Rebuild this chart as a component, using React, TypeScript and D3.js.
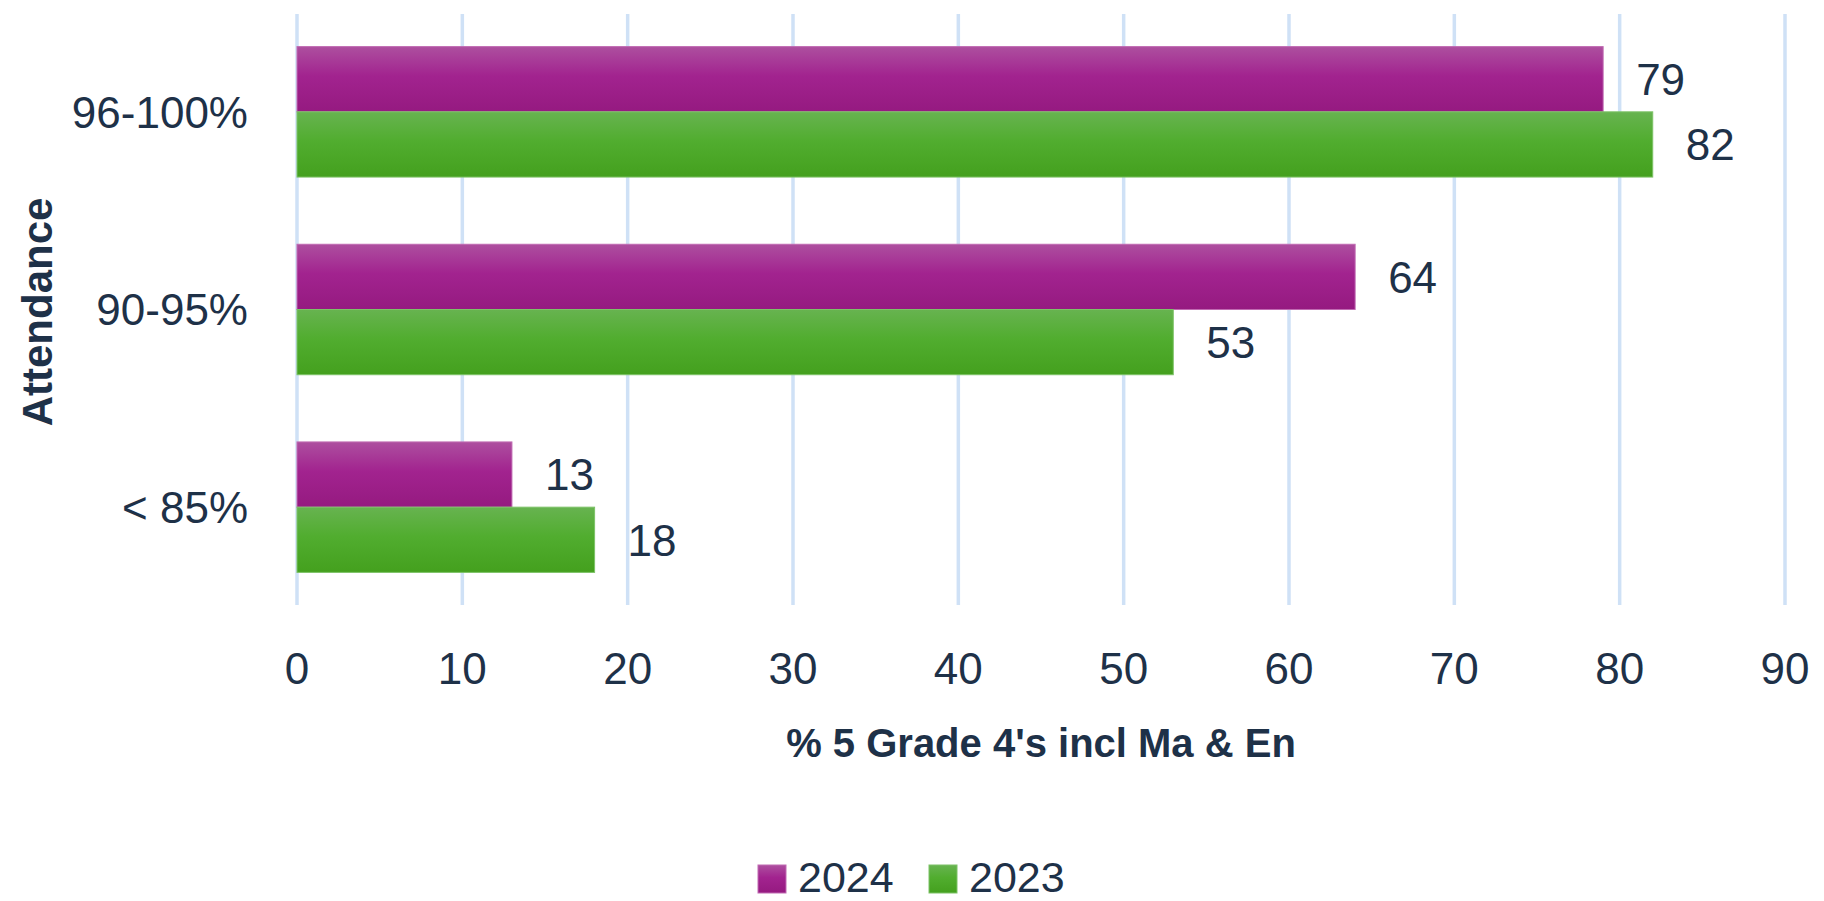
import React from "react";
import * as d3 from "d3";

const categories = ["96-100%", "90-95%", "< 85%"];
const seriesNames = ["2024", "2023"];
const values2024 = [79, 64, 13];
const values2023 = [82, 53, 18];
const xTicks = [0, 10, 20, 30, 40, 50, 60, 70, 80, 90];
const xTitle = "% 5 Grade 4's incl Ma & En";
const yTitle = "Attendance";

const W = 1824;
const H = 901;
const TEXT = "#1e3148";
const FONT = "'Liberation Sans', Arial, sans-serif";

export default function App() {
  const x = d3.scaleLinear().domain([0, 90]).range([297, 1785]);
  const y = d3
    .scaleBand<string>()
    .domain(categories)
    .range([13, 606])
    .paddingInner(0.34)
    .paddingOuter(0.17);
  const inner = d3.scaleBand<string>().domain(seriesNames).range([0, y.bandwidth()]);
  const seriesValues: Record<string, number[]> = { "2024": values2024, "2023": values2023 };
  const gradId: Record<string, string> = { "2024": "gPurple", "2023": "gGreen" };
  const stroke: Record<string, string> = { "2024": "#c06ab2", "2023": "#7cc266" };

  return (
    <svg
      width={W}
      height={H}
      style={{ position: "fixed", left: 0, top: 0, display: "block", background: "#fff" }}
      fontFamily={FONT}
    >
      <defs>
        <linearGradient id="gPurple" x1="0" y1="0" x2="0" y2="1">
          <stop offset="0%" stopColor="#ad4f9f" />
          <stop offset="45%" stopColor="#a2238f" />
          <stop offset="100%" stopColor="#951a80" />
        </linearGradient>
        <linearGradient id="gGreen" x1="0" y1="0" x2="0" y2="1">
          <stop offset="0%" stopColor="#67b350" />
          <stop offset="45%" stopColor="#51ad2f" />
          <stop offset="100%" stopColor="#44a01e" />
        </linearGradient>
      </defs>

      {xTicks.map((t) => (
        <line key={"g" + t} x1={x(t)} x2={x(t)} y1={14} y2={605} stroke="#cfe1f6" strokeWidth={3.5} />
      ))}

      {categories.map((c, ci) =>
        seriesNames.map((s) => {
          const v = seriesValues[s][ci];
          const y0 = (y(c) ?? 0) + (inner(s) ?? 0);
          const h = inner.bandwidth();
          return (
            <g key={c + s}>
              <rect
                x={x(0)}
                y={y0}
                width={x(v) - x(0)}
                height={h}
                fill={`url(#${gradId[s]})`}
                stroke={stroke[s]}
                strokeWidth={1}
              />
              <text
                x={x(v) + 33}
                y={y0 + h / 2}
                dy="0.36em"
                fontSize={44}
                fill={TEXT}
              >
                {v}
              </text>
            </g>
          );
        })
      )}

      {categories.map((c) => (
        <text
          key={"cl" + c}
          x={248}
          y={(y(c) ?? 0) + y.bandwidth() / 2}
          dy="0.36em"
          textAnchor="end"
          fontSize={44}
          fill={TEXT}
        >
          {c}
        </text>
      ))}

      {xTicks.map((t) => (
        <text key={"t" + t} x={x(t)} y={668} dy="0.36em" textAnchor="middle" fontSize={44} fill={TEXT}>
          {t}
        </text>
      ))}

      <text
        x={(x(0) + x(90)) / 2}
        y={743}
        dy="0.36em"
        textAnchor="middle"
        fontSize={40}
        fontWeight="bold"
        fill={TEXT}
      >
        {xTitle}
      </text>

      <text
        transform={`translate(37, 312) rotate(-90)`}
        dy="0.36em"
        textAnchor="middle"
        fontSize={42}
        fontWeight="bold"
        fill={TEXT}
      >
        {yTitle}
      </text>

      {seriesNames.map((s, i) => {
        const lx = [758, 929][i];
        return (
          <g key={"lg" + s}>
            <rect x={lx} y={865} width={28} height={28} fill={`url(#${gradId[s]})`} stroke={stroke[s]} strokeWidth={1} />
            <text x={lx + 40} y={877} dy="0.36em" fontSize={43} fill={TEXT}>
              {s}
            </text>
          </g>
        );
      })}
    </svg>
  );
}
